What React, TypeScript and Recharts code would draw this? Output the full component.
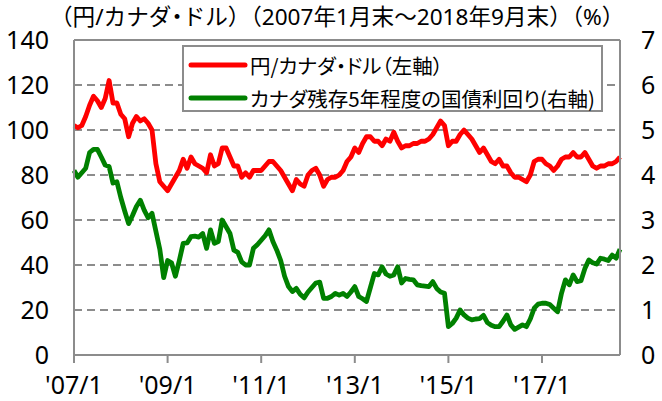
import { LineChart, Line, XAxis, YAxis, CartesianGrid, ReferenceLine } from "recharts";

// 2007/1 .. 2018/9 month-end
const START_YEAR = 2007;
const MONTHS: string[] = [];
for (let i = 0; i < 141; i++) {
  const y = START_YEAR + Math.floor(i / 12);
  const m = (i % 12) + 1;
  MONTHS.push(`'${String(y).slice(2)}/${m}`);
}

// 円/カナダ・ドル (left axis)
const JPY_CAD = [
  102, 101, 102, 106, 111, 115, 113, 110, 114, 122,
  112, 112, 107, 105, 97, 103, 106, 104, 105, 103,
  100, 85, 77, 75, 73, 76, 79, 82, 87, 83,
  88, 85, 84, 83, 81, 89, 84, 85, 92, 92,
  88, 84, 84, 79, 81, 79, 82, 82, 82, 84,
  86, 86, 84, 82, 79, 76, 73, 78, 76, 75,
  80, 82, 83, 80, 75, 78, 79, 79, 80, 82,
  86, 88, 92, 90, 94, 97, 97, 95, 95, 93,
  96, 95, 99, 95, 92, 93, 93, 94, 94, 95,
  95, 96, 98, 101, 104, 102, 93, 95, 95, 98,
  100, 98, 96, 93, 90, 92, 89, 86, 85, 87,
  84, 84, 81, 79, 79, 78, 77, 80, 86, 87,
  87, 85, 84, 82, 84, 87, 88, 88, 90, 88,
  88, 90, 87, 84, 83, 84, 84, 85, 85, 86,
  88,
];

// カナダ残存5年程度の国債利回り (right axis, %)
const CAD_5Y = [
  4.10, 3.95, 4.05, 4.15, 4.50, 4.57, 4.57, 4.40, 4.22, 4.19,
  3.82, 3.85, 3.50, 3.20, 2.92, 3.10, 3.30, 3.44, 3.22, 3.05,
  3.15, 2.75, 2.35, 1.72, 2.10, 2.05, 1.75, 2.10, 2.48, 2.49,
  2.63, 2.64, 2.62, 2.70, 2.37, 2.78, 2.48, 2.52, 3.00, 2.85,
  2.70, 2.33, 2.28, 2.07, 2.00, 2.00, 2.37, 2.45, 2.55, 2.65,
  2.78, 2.52, 2.33, 2.10, 1.75, 1.52, 1.41, 1.48, 1.35, 1.27,
  1.40, 1.50, 1.60, 1.62, 1.26, 1.26, 1.30, 1.37, 1.33, 1.37,
  1.30, 1.40, 1.52, 1.30, 1.25, 1.19, 1.50, 1.81, 1.78, 1.96,
  1.80, 1.75, 1.78, 1.96, 1.60, 1.70, 1.68, 1.67, 1.56, 1.54,
  1.53, 1.52, 1.63, 1.48, 1.40, 1.37, 0.63, 0.70, 0.82, 1.00,
  0.89, 0.82, 0.78, 0.80, 0.81, 0.88, 0.72, 0.66, 0.63, 0.63,
  0.75, 0.89, 0.67, 0.57, 0.62, 0.67, 0.63, 0.80, 1.04, 1.13,
  1.15, 1.15, 1.12, 1.04, 0.96, 1.37, 1.67, 1.56, 1.78, 1.63,
  1.65, 1.92, 2.11, 2.05, 2.02, 2.15, 2.13, 2.10, 2.22, 2.15,
  2.35,
];

const LEFT_TICKS = [0, 20, 40, 60, 80, 100, 120, 140];
const RIGHT_TICKS = [0, 1, 2, 3, 4, 5, 6, 7];

const SERIES = [
  { key: "jpy", name: "円/カナダ・ドル（左軸）", color: "#FF0000" },
  { key: "yld", name: "カナダ残存5年程度の国債利回り(右軸)", color: "#008000" },
];

const data = MONTHS.map((m, i) => ({ m, jpy: JPY_CAD[i], yld: CAD_5Y[i] }));

const GRAY = "#8c8c8c";
const NUM_FONT = "'Noto Sans', 'Noto Sans CJK JP', sans-serif";
const JP_FONT = "'Noto Sans CJK JP', sans-serif";

// legend box drawn over the plot, like the Excel original
const ChartLegend = () => (
  <div
    style={{
      position: "absolute",
      left: 182,
      top: 45,
      width: 421,
      height: 67,
      boxSizing: "border-box",
      border: `2px solid ${GRAY}`,
      background: "#fff",
      fontFamily: JP_FONT,
      fontSize: 20.5,
      fontFeatureSettings: '"palt"',
      color: "#000",
      zIndex: 2,
    }}
  >
    {SERIES.map((s, i) => (
      <div key={s.key} style={{ position: "absolute", left: 4, top: 3 + i * 33, height: 30, display: "flex", alignItems: "center" }}>
        <svg width={62} height={10}>
          <line x1={3} y1={5} x2={57} y2={5} stroke={s.color} strokeWidth={5} strokeLinecap="round" />
        </svg>
        <span style={{ whiteSpace: "nowrap" }}>{s.name}</span>
      </div>
    ))}
  </div>
);

export default function App() {
  return (
    <div style={{ position: "absolute", left: 0, top: 0, width: 662, height: 401, background: "#fff" }}>
      <div
        style={{
          position: "absolute",
          left: 50,
          top: 3,
          fontFamily: NUM_FONT,
          fontSize: 22.6,
          lineHeight: "28px",
          whiteSpace: "nowrap",
          color: "#000",
          zIndex: 2,
        }}
      >
        （円/カナダ<span style={{ fontFeatureSettings: '"palt"' }}>・</span>ドル）（2007年1月末～2018年9月末）（%）
      </div>
      <ChartLegend />
      <LineChart width={662} height={401} data={data} margin={{ top: 40, right: 0, bottom: 0, left: 0 }}>
        <CartesianGrid yAxisId="left" vertical={false} stroke={GRAY} strokeWidth={2} strokeDasharray="8 5" />
        <XAxis
          dataKey="m"
          interval={23}
          height={46}
          padding={{ left: 0, right: 0 }}
          axisLine={{ stroke: GRAY, strokeWidth: 2 }}
          tickLine={{ stroke: GRAY, strokeWidth: 2 }}
          tickSize={8}
          tickMargin={13}
          tick={{ fill: "#000", fontSize: 25, fontFamily: NUM_FONT }}
        />
        <YAxis
          yAxisId="left"
          width={74}
          domain={[0, 140]}
          ticks={LEFT_TICKS}
          axisLine={{ stroke: GRAY, strokeWidth: 2 }}
          tickLine={false}
          tickSize={0}
          tickMargin={25}
          tick={{ fill: "#000", fontSize: 25, fontFamily: NUM_FONT }}
        />
        <YAxis
          yAxisId="right"
          orientation="right"
          width={42}
          domain={[0, 7]}
          ticks={RIGHT_TICKS}
          axisLine={{ stroke: GRAY, strokeWidth: 2 }}
          tickLine={false}
          tickSize={0}
          tickMargin={21}
          tick={{ fill: "#000", fontSize: 25, fontFamily: NUM_FONT }}
        />
        <ReferenceLine yAxisId="left" y={140} stroke={GRAY} strokeWidth={2} />
        <Line
          yAxisId="left"
          type="linear"
          dataKey="jpy"
          name={SERIES[0].name}
          stroke={SERIES[0].color}
          strokeWidth={4.8}
          strokeLinejoin="round"
          dot={false}
          isAnimationActive={false}
        />
        <Line
          yAxisId="right"
          type="linear"
          dataKey="yld"
          name={SERIES[1].name}
          stroke={SERIES[1].color}
          strokeWidth={4.8}
          strokeLinejoin="round"
          dot={false}
          isAnimationActive={false}
        />
      </LineChart>
    </div>
  );
}
